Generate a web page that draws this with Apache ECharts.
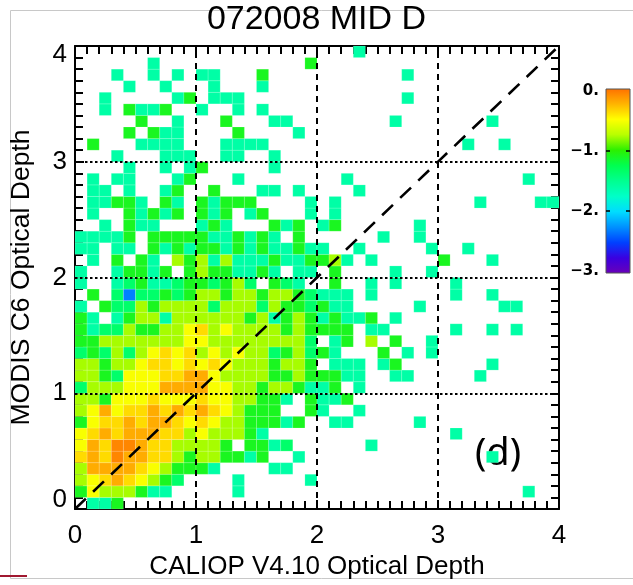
<!DOCTYPE html>
<html><head><meta charset="utf-8">
<script src="https://cdn.jsdelivr.net/npm/echarts@6/dist/echarts.min.js"></script>
<style>html,body{margin:0;padding:0;background:#fff;}#chart{width:633px;height:585px;}</style>
</head><body><div id="chart"></div>
<script>
const _ = null;
// log10 relative frequency per 0.1 x 0.1 bin; row index = MODIS bin (y), column index = CALIOP bin (x)
const r00=[_,-1.6,-1.6,-1.1,_,_,_,_,_,_, _,_,_,_,_,_,_,_,_,_, _,_,_,_,_,_,_,_,_,_, _,_,_,_,_,_,_,_,_,_];
const r01=[-1.1,-0.52,-0.78,-0.78,-0.78,-1.1,-1.6,-1.6,_,_, _,_,_,-1.6,_,_,_,_,_,_, _,_,_,_,_,_,_,_,_,_, _,_,_,_,_,_,_,-1.6,_,_];
const r02=[-0.78,-0.52,-0.38,-0.22,-0.38,-0.52,-0.78,-1.1,-1.35,_, _,_,_,-1.6,_,_,_,_,_,-1.6, _,_,_,_,_,_,_,_,_,_, _,_,_,_,_,_,_,_,_,_];
const r03=[-0.78,-0.22,-0.22,-0.22,-0.22,-0.38,-0.52,-0.78,-1.1,-1.1, -1.1,-1.6,_,_,_,_,-1.6,-1.6,_,_, _,_,_,_,_,_,_,_,_,_, _,_,_,_,_,_,_,_,_,_];
const r04=[-0.38,-0.22,-0.38,-0.08,-0.22,-0.22,-0.38,-0.38,-0.78,-1.1, -0.78,-0.78,-1.1,-1.1,-1.6,-1.1,_,_,-1.6,_, _,_,_,_,_,_,_,_,_,_, _,_,_,_,-1.6,_,_,_,_,_];
const r05=[-0.52,-0.22,-0.38,-0.08,-0.08,-0.22,-0.38,-0.38,-0.78,-0.78, -0.78,-0.78,-1.1,_,-1.1,-1.1,-1.6,-1.35,_,_, _,_,_,_,-1.6,_,_,_,_,_, _,_,_,_,_,_,_,_,_,_];
const r06=[-0.52,-0.38,-0.22,-0.38,-0.22,-0.22,-0.22,-0.38,-0.38,-0.78, -0.52,-0.78,-0.78,-0.78,-1.1,-1.6,_,_,_,_, _,_,_,_,_,_,_,_,_,_, _,-1.6,_,_,_,_,_,_,_,_];
const r07=[-1.1,-0.52,-0.38,-0.38,-0.22,-0.38,-0.22,-0.22,-0.38,-0.52, -0.38,-0.52,-0.78,-0.78,-1.1,-1.1,-1.1,-1.6,-1.1,_, _,-1.6,-1.6,_,_,_,_,_,-1.6,_, _,_,_,_,_,_,_,_,_,_];
const r08=[-0.78,-0.52,-0.22,-0.52,-0.38,-0.38,-0.22,-0.38,-0.22,-0.38, -0.22,-0.38,-0.52,-0.78,-1.1,-1.1,-1.1,_,_,-1.1, -1.6,_,_,-1.6,_,_,_,_,_,_, _,_,_,_,_,_,_,_,_,_];
const r09=[-0.78,-0.78,-1.1,-0.52,-0.52,-0.52,-0.38,-0.52,-0.52,-0.52, -0.38,-0.52,-0.52,-0.78,-0.78,-1.1,-1.1,-1.6,_,-1.1, -1.6,-1.6,-1.1,_,_,_,_,_,_,_, _,_,_,_,_,_,_,_,_,_];
const r10=[-1.35,-0.78,-0.78,-0.78,-0.52,-0.52,-0.52,-0.22,-0.22,-0.22, -0.22,-0.52,-0.52,-0.78,-0.78,-1.1,-0.78,-0.78,-1.1,-1.6, -1.6,-1.1,_,-1.6,_,_,_,_,_,_, _,_,_,_,_,_,_,_,_,_];
const r11=[-0.78,-0.78,-1.1,-1.35,-0.52,-0.52,-0.52,-0.38,-0.38,-0.22, -0.22,-0.52,-0.78,-0.78,-0.78,-0.78,-1.1,-1.1,-0.78,-1.1, -1.1,-1.1,-1.6,-1.6,_,_,-1.6,-1.6,_,_, _,_,_,-1.6,_,_,_,_,_,_];
const r12=[-0.78,-0.78,-1.1,-0.78,-0.78,-0.52,-0.38,-0.38,-0.52,-0.38, -0.52,-0.38,-0.52,-0.78,-0.78,-0.78,-1.1,-0.78,-0.78,-1.1, _,-1.6,-1.6,-1.6,_,-1.6,-1.1,_,_,_, _,_,_,_,-1.6,_,_,_,_,_];
const r13=[-1.35,-1.1,-1.35,-0.78,-1.35,-0.78,-0.52,-0.38,-0.52,-0.38, -0.78,-0.52,-0.78,-0.52,-0.78,-0.78,-1.35,-1.1,-0.78,-1.35, -1.1,-1.6,_,_,_,-1.1,_,-1.6,_,-1.6, _,_,_,_,_,_,_,_,_,_];
const r14=[-1.1,-1.1,-0.78,-0.78,-0.78,-0.78,-0.78,-0.78,-0.78,-0.52, -0.52,-0.78,-0.78,-0.78,-0.78,-0.78,-0.78,-0.78,-0.78,-1.35, _,-1.6,-1.1,_,-0.78,_,-1.1,_,_,-1.6, _,_,_,_,_,_,_,_,_,_];
const r15=[-1.1,-1.6,-1.35,-1.35,-0.78,-1.1,-1.1,-0.78,-0.78,-0.52, -0.38,-0.78,-0.52,-0.78,-0.78,-0.78,-0.78,-1.1,-0.78,-1.1, -1.1,-1.1,-1.1,_,-1.6,-1.6,_,_,_,_, _,-1.6,_,_,-1.6,_,-1.6,_,_,_];
const r16=[-1.1,-1.6,_,-1.6,-1.1,-0.78,-0.78,-1.6,-0.78,-0.78, -0.78,-0.78,-0.78,-0.78,-1.1,-0.78,-1.6,-1.1,-0.78,-1.1, -1.6,-1.1,-1.6,-1.6,-1.1,_,-1.6,_,_,_, _,_,_,_,_,_,_,_,_,_];
const r17=[-1.6,_,-1.1,-1.35,-1.35,-0.78,-1.1,-0.78,-0.78,-0.78, -0.78,-1.35,-0.78,-0.78,-0.78,-1.35,-0.78,-1.1,-1.1,-1.35, -1.1,-1.6,-1.6,_,_,_,_,_,-1.6,_, _,_,_,_,_,-1.6,-1.6,_,_,_];
const r18=[_,-1.1,_,-1.35,-2.3,-1.35,-1.35,-1.1,-1.35,-1.1, -0.78,-0.78,-1.1,-0.78,-0.78,-1.1,-0.78,-0.78,-1.1,-1.35, -1.6,-1.6,-1.6,_,-1.6,_,_,_,_,_, _,-1.6,_,_,-1.6,_,_,_,_,_];
const r19=[-1.6,_,_,-1.6,-1.35,-1.1,-1.6,-1.6,-1.35,-1.1, -1.1,-1.35,-1.1,-0.78,-1.35,_,-1.1,-1.35,-1.6,_, _,-1.1,_,_,-1.6,_,-1.6,_,_,_, _,-1.6,_,_,_,_,_,_,_,_];
const r20=[-1.6,_,_,-1.6,-1.1,-1.1,-1.6,-1.1,_,-1.1, -0.78,-1.1,-1.1,-1.6,-1.6,-1.1,-1.6,_,-1.6,-1.6, _,-1.1,_,_,_,_,-1.6,_,_,-1.6, _,_,_,_,_,_,_,_,_,_];
const r21=[_,-1.6,_,-1.1,_,-1.1,-1.6,_,-0.78,-1.1, -0.78,-1.6,-0.78,-1.6,-1.6,-1.6,-1.1,-1.6,-1.6,-1.1, -1.1,-0.78,-1.6,_,-1.6,_,_,_,_,_, -1.1,_,_,_,-1.6,_,_,_,_,_];
const r22=[-1.6,-1.6,_,-1.6,-1.6,_,-1.1,-1.6,-1.1,-1.6, -1.1,-1.1,-1.6,-1.1,-1.6,-1.1,-1.6,-1.6,-1.1,-1.6, -1.6,_,_,-1.6,_,_,_,_,_,-1.6, _,_,-1.6,_,_,_,_,_,_,_];
const r23=[-1.6,-1.6,-1.6,-1.6,-1.1,_,-1.1,-1.1,-1.1,-1.1, -1.1,-1.6,-1.6,-1.1,-1.6,-1.1,-1.6,_,-1.1,_, _,_,_,_,_,-1.6,_,_,-1.6,_, _,_,_,_,_,_,_,_,_,_];
const r24=[_,_,-1.6,_,-1.1,-1.6,-1.6,_,_,_, -1.6,-1.1,-1.6,_,_,_,-1.1,-1.6,-1.1,_, -1.6,-1.1,_,_,_,_,_,_,-1.6,_, _,_,_,_,_,_,_,_,_,_];
const r25=[_,-1.6,_,_,-1.1,-1.6,-1.1,-1.6,-1.1,_, -1.1,-1.6,-1.1,_,-1.6,-1.1,_,_,_,-1.6, _,-1.6,_,_,_,_,_,_,_,_, _,_,_,_,_,_,_,_,_,_];
const r26=[_,-1.6,-1.6,-1.1,-1.1,-1.6,_,-1.1,-1.6,_, -1.1,-1.6,-1.1,-1.1,-1.1,_,_,_,_,-1.6, _,-1.6,_,_,_,_,_,_,_,_, _,_,_,-1.6,_,_,_,_,-1.6,-1.6];
const r27=[_,-1.6,-1.6,_,-1.6,_,_,-1.6,-1.1,_, _,-1.1,_,_,_,-1.6,-1.6,_,-1.6,_, _,_,_,-1.6,_,_,_,_,_,_, _,_,_,_,_,_,_,_,_,_];
const r28=[_,-1.6,_,-1.6,-1.6,_,_,_,-1.6,-1.1, _,_,_,-1.6,_,_,_,_,_,_, _,_,-1.6,_,_,_,_,_,_,_, _,_,_,_,_,_,_,-1.6,_,_];
const r29=[_,_,_,_,-1.6,_,_,-1.6,_,-1.6, -1.1,_,_,_,_,_,-1.6,_,_,_, _,_,_,_,_,_,_,_,_,_, _,_,_,_,_,_,_,_,_,_];
const r30=[_,_,_,-1.6,_,_,_,-1.6,-1.6,-1.6, _,_,-1.6,-1.6,_,_,-1.6,_,_,_, _,_,_,_,_,_,_,_,_,_, _,_,_,_,_,_,_,_,_,_];
const r31=[_,-1.1,_,_,_,-1.6,-1.6,-1.6,-1.6,_, _,_,-1.6,-1.6,-1.6,-1.6,_,_,_,_, _,_,_,_,_,_,_,_,_,_, _,_,-1.6,_,_,-1.6,_,_,_,_];
const r32=[_,_,_,_,-1.1,_,-1.1,-1.6,-1.6,_, _,_,_,-1.1,_,_,_,_,-1.6,_, _,_,_,_,_,_,_,_,_,_, _,_,_,_,_,_,_,_,_,_];
const r33=[_,_,_,_,_,-1.1,_,_,-1.6,_, _,_,-1.1,_,_,_,-1.6,-1.6,_,_, _,_,_,_,_,_,-1.6,_,_,_, _,_,_,_,-1.6,_,_,_,_,_];
const r34=[_,_,-1.6,_,-1.1,-1.6,-1.6,-1.1,_,_, -1.6,_,_,-1.6,_,-1.6,_,_,_,_, _,_,_,_,_,_,_,_,_,_, _,_,_,_,_,_,_,_,_,_];
const r35=[_,_,-1.6,_,_,_,_,_,-1.6,-1.1, _,-1.6,-1.6,-1.6,_,_,_,_,_,_, _,_,_,_,_,_,_,-1.6,_,_, _,_,_,_,_,_,_,_,_,_];
const r36=[_,_,_,_,-1.6,_,_,-1.6,_,_, _,-1.6,_,_,_,-1.6,_,_,_,_, _,_,_,_,_,_,_,_,_,_, _,_,_,_,_,_,_,_,_,_];
const r37=[_,_,_,-1.6,_,_,-1.6,_,-1.6,_, -1.6,-1.6,_,_,_,-1.1,_,_,_,_, _,_,_,_,_,_,_,-1.6,_,_, _,_,_,_,_,_,_,_,_,_];
const r38=[_,_,_,_,_,_,-1.6,_,_,_, _,_,_,_,_,_,_,_,_,-1.1, _,_,_,_,_,_,_,_,_,_, _,_,_,_,_,_,_,_,_,_];
const r39=[_,_,_,_,_,_,_,_,_,_, _,_,_,_,_,_,_,_,_,_, _,_,_,-1.6,_,_,_,_,_,_, _,_,_,_,_,_,_,_,_,_];
const rows=[r00,r01,r02,r03,r04,r05,r06,r07,r08,r09,r10,r11,r12,r13,r14,r15,r16,r17,r18,r19,
            r20,r21,r22,r23,r24,r25,r26,r27,r28,r29,r30,r31,r32,r33,r34,r35,r36,r37,r38,r39];

const binWidth = 0.1;
const axisTicks = [0, 1, 2, 3, 4];
const gridXAt = [1, 2, 3];
const gridYAt = [1, 2, 3];
const oneToOne = [[0, 0], [4, 4]];
const cbarValues = [0, -1, -2, -3];
const cbarLabels = ['0.', '\u22121.', '\u22122.', '\u22123.'];
const title = '072008 MID D';
const xName = 'CALIOP V4.10 Optical Depth';
const yName = 'MODIS C6 Optical Depth';
const panelTag = '(d)';

rows.forEach((r, j) => { if (r.length !== 40) throw new Error('row ' + j + ' has ' + r.length); });

const cells = [];
rows.forEach((row, j) => row.forEach((v, i) => {
  if (v !== null) cells.push([i * binWidth, (i + 1) * binWidth, j * binWidth, (j + 1) * binWidth, v]);
}));

const palette = ['#6a00b8','#3a00e0','#0040ff','#0090ff','#00dcff','#00ffc8','#00ff90','#00ff50','#2cf000','#b8ff00','#ffff00','#ffb400','#ff7000'];
const FONT = 'Liberation Sans';
const vmin = axisTicks[0], vmax = axisTicks[axisTicks.length - 1];

const chart = echarts.init(document.getElementById('chart'), null, {renderer: 'canvas'});

const gridL = 75, gridT = 46, gridW = 484, gridH = 463;
const cbX = 606, cbY = 89, cbW = 24, cbH = 184;
const cbYof = v => cbY + 2 + (0 - v) / 3 * (cbH - 4);

function baseAxis(pos, showLabel) {
  return {
    type: 'value', min: vmin, max: vmax, interval: 1, position: pos,
    axisLine: {show: true, onZero: false, lineStyle: {color: '#000', width: 2}},
    axisTick: {show: true, inside: true, length: 9, lineStyle: {color: '#000', width: 2}},
    minorTick: {show: true, splitNumber: 10, length: 8, lineStyle: {color: '#000', width: 2}},
    splitLine: {show: false},
    axisLabel: {show: showLabel, color: '#000', fontFamily: FONT, fontSize: 26}
  };
}

const xBottom = baseAxis('bottom', true);
xBottom.axisLabel.margin = 14;
xBottom.name = xName; xBottom.nameLocation = 'middle'; xBottom.nameGap = 43;
xBottom.nameTextStyle = {color: '#000', fontFamily: FONT, fontSize: 26};
const xTop = baseAxis('top', false);

const yLeft = baseAxis('left', true);
yLeft.axisLabel.margin = 8;
yLeft.axisLabel.formatter = v => v === vmin ? '{lo|' + v + '}' : (v === vmax ? '{hi|' + v + '}' : String(v));
yLeft.axisLabel.rich = {
  lo: {fontSize: 26, fontFamily: FONT, color: '#000', padding: [0, 0, 18, 0]},
  hi: {fontSize: 26, fontFamily: FONT, color: '#000', padding: [18, 0, 0, 0]}
};
yLeft.name = yName; yLeft.nameLocation = 'middle'; yLeft.nameGap = 40;
yLeft.nameTextStyle = {color: '#000', fontFamily: FONT, fontSize: 26.5};
const yRight = baseAxis('right', false);

const graphics = [
  {type: 'polyline', silent: true, shape: {points: [[633, 10.5], [10.5, 10.5], [10.5, 578.5], [633, 578.5]]},
   style: {stroke: '#c8c8c8', lineWidth: 1, fill: null}},
  {type: 'line', silent: true, shape: {x1: 0, y1: 576, x2: 27, y2: 576}, style: {stroke: '#a01830', lineWidth: 2}},
  {type: 'rect', shape: {x: cbX, y: cbY, width: cbW, height: cbH},
   style: {fill: {type: 'linear', x: 0, y: 0, x2: 0, y2: 1,
     colorStops: palette.slice().reverse().map((c, i) => ({offset: i / (palette.length - 1), color: c}))},
     stroke: '#555', lineWidth: 1}},
  {type: 'text', left: 'center', top: 3, style: {text: title, fontFamily: FONT, fontSize: 34, fill: '#000'}},
  {type: 'text', x: 498, y: 454, style: {text: panelTag, fontFamily: 'Noto Sans', fontSize: 38, fill: '#000', align: 'center', verticalAlign: 'middle'}}
];
cbarValues.forEach((v, k) => {
  const yy = cbYof(v);
  graphics.push({type: 'text', x: cbX - 7, y: yy, style: {text: cbarLabels[k], fontFamily: 'DejaVu Sans', fontWeight: 'bold', fontSize: 15, fill: '#000', align: 'right', verticalAlign: 'middle'}});
  if (v !== 0 && v !== -3) {
    graphics.push({type: 'line', shape: {x1: cbX, y1: yy, x2: cbX + 4, y2: yy}, style: {stroke: '#000', lineWidth: 1.5}});
    graphics.push({type: 'line', shape: {x1: cbX + cbW - 4, y1: yy, x2: cbX + cbW, y2: yy}, style: {stroke: '#000', lineWidth: 1.5}});
  }
});

const option = {
  animation: false,
  backgroundColor: '#fff',
  grid: {left: gridL, top: gridT, width: gridW, height: gridH, containLabel: false},
  xAxis: [xBottom, xTop],
  yAxis: [yLeft, yRight],
  visualMap: {show: false, type: 'continuous', min: -3, max: 0, dimension: 4, seriesIndex: 0, inRange: {color: palette}},
  series: [
    {
      type: 'custom', xAxisIndex: 0, yAxisIndex: 0, z: 2,
      encode: {x: [0, 1], y: [2, 3]},
      data: cells,
      renderItem: (params, api) => {
        const p0 = api.coord([api.value(0), api.value(3)]);
        const p1 = api.coord([api.value(1), api.value(2)]);
        return {type: 'rect', shape: {x: p0[0], y: p0[1], width: p1[0] - p0[0], height: p1[1] - p0[1]},
                style: {fill: api.visual('color'), stroke: 'rgba(255,255,255,0.25)', lineWidth: 0.6}};
      }
    },
    {
      type: 'line', xAxisIndex: 0, yAxisIndex: 0, z: 5, data: oneToOne, symbol: 'none', silent: true,
      lineStyle: {color: '#000', width: 2.6, type: [15, 10]},
      markLine: {
        silent: true, symbol: 'none', label: {show: false}, animation: false,
        data: gridXAt.map(v => ({xAxis: v, lineStyle: {color: '#000', width: 2, type: [6, 5]}}))
          .concat(gridYAt.map(v => ({yAxis: v, lineStyle: {color: '#000', width: 2, type: [2.5, 2.5]}})))
      }
    }
  ],
  graphic: graphics
};
chart.setOption(option);
</script></body></html>
